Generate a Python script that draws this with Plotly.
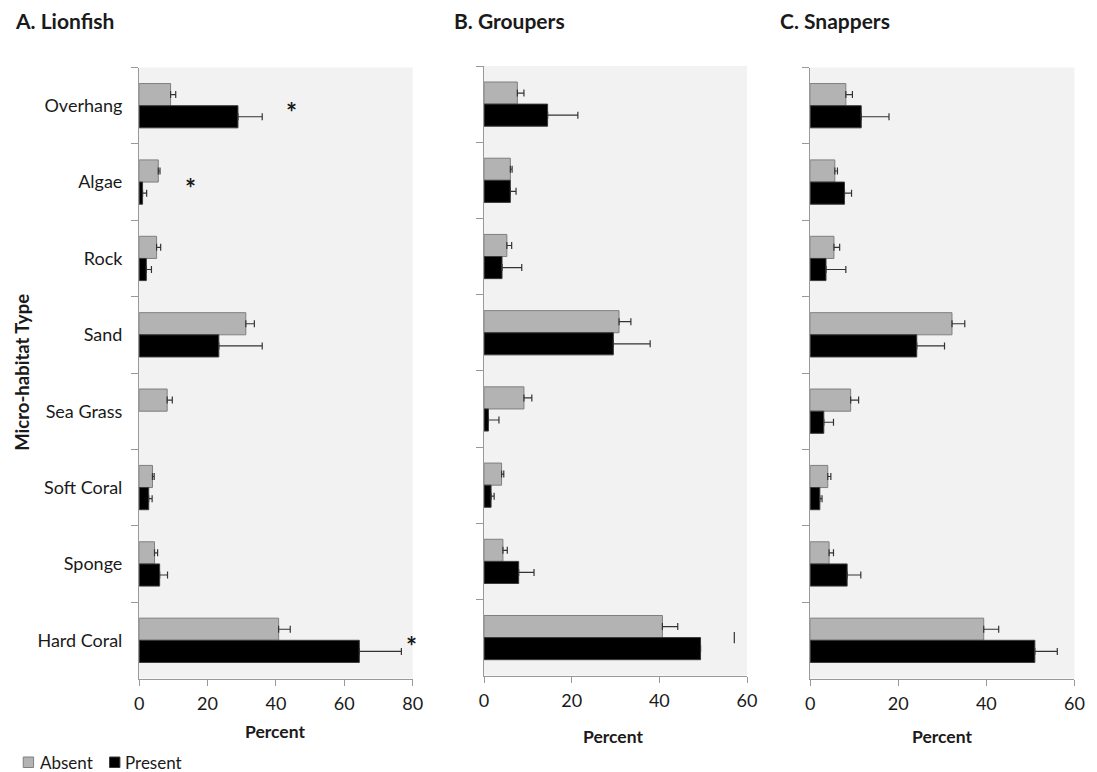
import plotly.graph_objects as go

categories = ["Overhang", "Algae", "Rock", "Sand", "Sea Grass", "Soft Coral", "Sponge", "Hard Coral"]

lion_absent = [9.2, 5.6, 5.1, 31.2, 8.2, 3.9, 4.5, 40.8]
lion_absent_err = [1.5, 0.5, 1.2, 2.5, 1.5, 0.5, 0.9, 3.4]
lion_present = [28.9, 1.0, 2.1, 23.3, None, 2.8, 6.0, 64.4]
lion_present_err = [7.1, 1.2, 1.5, 12.7, None, 1.0, 2.3, 12.3]

grouper_absent = [7.6, 6.0, 5.2, 30.8, 9.1, 4.0, 4.3, 40.7]
grouper_absent_err = [1.5, 0.4, 1.1, 2.7, 1.8, 0.5, 1.0, 3.5]
grouper_present = [14.5, 6.0, 4.1, 29.5, 1.0, 1.6, 7.9, 49.4]
grouper_present_err = [6.9, 1.3, 4.5, 8.4, 2.4, 0.7, 3.5, 7.7]

snapper_absent = [8.1, 5.6, 5.4, 32.2, 9.2, 4.0, 4.3, 39.4]
snapper_absent_err = [1.5, 0.6, 1.3, 2.9, 1.8, 0.7, 1.0, 3.4]
snapper_present = [11.6, 7.8, 3.6, 24.2, 3.1, 2.2, 8.4, 51.0]
snapper_present_err = [6.3, 1.6, 4.5, 6.3, 2.2, 0.5, 3.1, 5.1]

panel_titles = ["A. Lionfish", "B. Groupers", "C. Snappers"]
x_max = [80, 60, 60]
x_ticks = [[0, 20, 40, 60, 80], [0, 20, 40, 60], [0, 20, 40, 60]]
legend_names = ["Absent", "Present"]

FONT = "Lato, 'Open Sans', sans-serif"
TXT = "#1a1a1a"
W, H = 1097, 772
ABS_COL, ABS_LINE = "#b3b3b3", "#7f7f7f"
PRE_COL, PRE_LINE = "#000000", "#3a3a3a"
ERR_COL = "#333333"

def px(x):
    return x / W

def py(y):
    return 1 - y / H

# pixel layout (page coordinates)
x_dom_px = [(136, 413.3), (485.7, 752.3), (816.3, 1084.3)]
y_dom_px = [(67.5, 678.5), (66, 675.7), (67.5, 678.5)]

fig = go.Figure()

series = [
    (lion_absent, lion_absent_err, lion_present, lion_present_err),
    (grouper_absent, grouper_absent_err, grouper_present, grouper_present_err),
    (snapper_absent, snapper_absent_err, snapper_present, snapper_present_err),
]

cap_only_idx = categories.index("Hard Coral")  # groupers: only the cap of this error bar is visible

for i, (a, ae, p, pe) in enumerate(series):
    xa = "x" if i == 0 else f"x{i+1}"
    ya = "y" if i == 0 else f"y{i+1}"
    fig.add_trace(go.Bar(
        y=categories, x=a, orientation="h", name=legend_names[0],
        marker=dict(color=ABS_COL, line=dict(color=ABS_LINE, width=1)),
        error_x=dict(type="data", array=ae, arrayminus=[0] * len(ae), symmetric=False,
                     color=ERR_COL, thickness=1.2, width=3.5),
        xaxis=xa, yaxis=ya, showlegend=False))
    pe_draw = list(pe)
    if i == 1:
        pe_draw[cap_only_idx] = float("nan")
    fig.add_trace(go.Bar(
        y=categories, x=p, orientation="h", name=legend_names[1],
        marker=dict(color=PRE_COL, line=dict(color=PRE_LINE, width=1)),
        error_x=dict(type="data", array=pe_draw, arrayminus=[0] * len(pe), symmetric=False,
                     color=ERR_COL, thickness=1.2, width=3.5),
        xaxis=xa, yaxis=ya, showlegend=False))
    if i == 1:
        fig.add_trace(go.Scatter(
            x=[p[cap_only_idx] + pe[cap_only_idx]], y=[categories[cap_only_idx]],
            mode="markers", marker=dict(symbol="line-ns", size=8,
                                        line=dict(color=ERR_COL, width=1.2)),
            xaxis=xa, yaxis=ya, showlegend=False, hoverinfo="skip"))

layout = dict(
    width=W, height=H,
    margin=dict(l=0, r=0, t=0, b=0),
    paper_bgcolor="white", plot_bgcolor="#f2f2f2",
    barmode="group", bargap=0.42, bargroupgap=0.0,
    font=dict(family=FONT, size=18, color=TXT),
    showlegend=False,
)

for i in range(3):
    sfx = "" if i == 0 else str(i + 1)
    x0, x1 = x_dom_px[i]
    yt, yb = y_dom_px[i]
    layout["xaxis" + sfx] = dict(
        domain=[px(x0), px(x1)], anchor="y" + sfx, range=[0, x_max[i]],
        tickvals=x_ticks[i], ticks="outside", ticklen=6, tickcolor="#999999",
        showline=True, linecolor="#999999", linewidth=1.3,
        showgrid=False, zeroline=False, tickfont=dict(size=18, color=TXT),
        ticklabelstandoff=3, fixedrange=True)
    layout["yaxis" + sfx] = dict(
        domain=[py(yb), py(yt)], anchor="x" + sfx, type="category",
        categoryorder="array", categoryarray=categories, range=[7.5, -0.5],
        tickson="boundaries", ticks="outside", ticklen=7, tickcolor="#999999",
        showline=True, linecolor="#999999", linewidth=1.3, showgrid=False,
        showticklabels=(i == 0), tickfont=dict(size=18, color=TXT),
        ticklabelstandoff=12, fixedrange=True)

fig.update_layout(**layout)

annotations = []
# panel titles
title_px = [(8, 21), (453, 21), (784, 21)]
for t, (tx, ty) in zip(panel_titles, title_px):
    annotations.append(dict(text=f"<b>{t}</b>", x=px(tx), y=py(ty), xref="paper", yref="paper",
                            xanchor="left", yanchor="middle", showarrow=False,
                            font=dict(size=21, color=TXT, family=FONT)))
# x-axis titles
xt_px = [(274, 731), (616, 736), (950, 736)]
for (tx, ty) in xt_px:
    annotations.append(dict(text="<b>Percent</b>", x=px(tx), y=py(ty), xref="paper", yref="paper",
                            xanchor="center", yanchor="middle", showarrow=False,
                            font=dict(size=17.5, color=TXT, family=FONT)))
# y-axis title
annotations.append(dict(text="<b>Micro-habitat Type</b>", x=px(17), y=py(372), xref="paper",
                        yref="paper", xanchor="center", yanchor="middle", textangle=-90,
                        showarrow=False, font=dict(size=18.5, color=TXT, family=FONT)))
# significance asterisks (lionfish)
for cat, xv in [("Overhang", 44.5), ("Algae", 14.9), ("Hard Coral", 79.7)]:
    annotations.append(dict(text="<b>*</b>", x=xv, y=cat, xref="x", yref="y", showarrow=False,
                            xanchor="center", yanchor="middle", yshift=-6,
                            font=dict(size=26, color=TXT, family=FONT)))
# legend (manual, bottom-left)
leg_items = [(legend_names[0], ABS_COL, ABS_LINE, 18.5, 35), (legend_names[1], PRE_COL, PRE_LINE, 106, 121.5)]
shapes = []
for name, col, lcol, sx, tx in leg_items:
    shapes.append(dict(type="rect", xref="paper", yref="paper",
                       x0=px(sx), x1=px(sx + 10.5), y0=py(767.5), y1=py(757),
                       fillcolor=col, line=dict(color=lcol, width=1)))
    annotations.append(dict(text=name, x=px(tx - 2), y=py(762), xref="paper", yref="paper",
                            xanchor="left", yanchor="middle", showarrow=False,
                            font=dict(size=17, color=TXT, family=FONT)))
fig.update_layout(annotations=annotations, shapes=shapes)

# remove the default 8px page margin so the figure fills the 1097x772 window exactly
fig.write_html("out.html", config={"displayModeBar": False},
               post_script="document.body.style.margin='0px';document.body.style.overflow='hidden';")
